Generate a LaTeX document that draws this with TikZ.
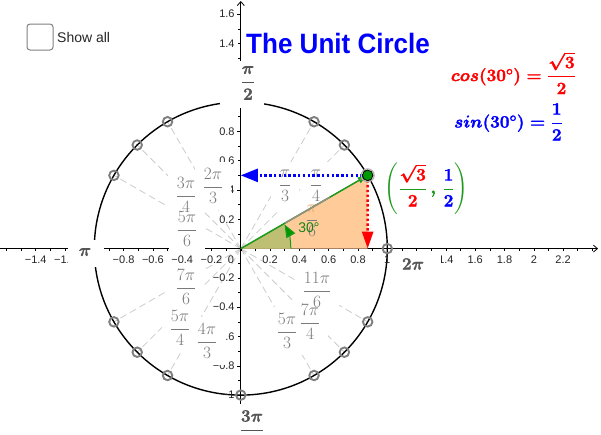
\documentclass[tikz,border=0pt]{standalone}
\usepackage{fontspec}
\usepackage{amsmath}
\setmainfont{Liberation Sans}
\usetikzlibrary{arrows.meta,calc}
\definecolor{ringgray}{HTML}{808080}
\definecolor{labgray}{HTML}{7A7A7A}
\definecolor{boldgray}{HTML}{555555}
\definecolor{dashgray}{HTML}{CCCCCC}
\definecolor{peach}{HTML}{FFCC99}
\definecolor{olive}{HTML}{BFBF73}
\definecolor{vecgreen}{HTML}{1C9A1C}
\definecolor{ptgreen}{HTML}{009900}
\newcommand{\fs}[1]{\fontsize{#1}{#1}\selectfont}
\newcommand{\heavy}[1]{\special{pdf:code 2 Tr 0.3 w}#1\special{pdf:code 0 Tr 1 w}}
\tikzset{
  ticklab/.style={font=\fs{11}, text=black!85, inner sep=0pt},
  graylab/.style={font=\fs{17.5}, text=labgray, inner sep=0pt},
  boldlab/.style={font=\fs{18}\mathversion{bold}, text=boldgray, inner sep=0pt},
  masker/.style={fill=white, draw=none},
  ringmark/.style={circle, draw=ringgray, line width=1.9pt, minimum size=9.5pt, inner sep=0pt},
  spoke/.style={draw=dashgray, line width=0.8pt, dash pattern=on 7pt off 4pt},
  axisline/.style={draw=black, line width=0.8pt, -{Straight Barb[length=4pt,width=7pt]}},
  formula/.style={font=\fs{17.5}\mathversion{bold}, inner sep=0pt},
}
\begin{document}
\begin{tikzpicture}[x=1pt,y=1pt]
\useasboundingbox (0,0) rectangle (601,-434);
\clip (0,0) rectangle (601,-434);
\fill[white] (0,0) rectangle (601,-434);
\coordinate (O) at (240.8,-248.6);
\def\R{146.5}
% points on the circle
\foreach \a/\n in {0/r,30/a,45/b,60/c,120/d,135/e,150/f,210/g,225/h,240/i,270/m,300/j,315/k,330/l}{
  \coordinate (P\n) at ($(O)+(\a:\R pt)$);
}
% spokes
\foreach \n in {a,b,c,d,e,f,g,h,i,j,k,l}{ \draw[spoke] (O) -- (P\n); }
% circle
\draw[black, line width=1.4pt] (O) circle[radius=\R pt];
% axes
\coordinate (XL) at (0,-248.6);
\coordinate (XR) at (598,-248.6);
\coordinate (YB) at (240.8,-434);
\coordinate (YT) at (240.8,-1);
\draw[axisline] (XL) -- (XR);
\draw[axisline] (YB) -- (YT);
% ticks
\foreach \i in {-16,...,24}{ \draw[black,line width=0.6pt] ($(O)+(\i*14.65,0)$) -- ++(0,-2.5); }
\foreach \i in {-12,...,16}{ \draw[black,line width=0.6pt] ($(O)+(0,\i*14.65)$) -- ++(-2.5,0); }
\foreach \i in {-6,-4,...,8}{ \draw[black,line width=0.6pt] ($(O)+(0,\i*29.3)$) -- ++(-4,0); }
% x tick labels
\foreach \v/\t in {-1.4/−1.4,-1.2/−1.2,-0.8/−0.8,-0.6/−0.6,-0.4/−0.4,-0.2/−0.2,0.2/0.2,0.4/0.4,0.6/0.6,0.8/0.8,1/1,1.4/1.4,1.6/1.6,1.8/1.8,2/2,2.2/2.2}{
  \node[ticklab] at ($(O)+(\v*\R,-10.8)$) {\t};
}
\node[ticklab] at (231,-259.6) {0};
% y tick labels
\foreach \v/\t in {1.6/1.6,1.4/1.4,0.8/0.8,0.6/0.6,0.4/0.4,0.2/0.2,-0.2/−0.2,-0.4/−0.4,-0.6/−0.6,-0.8/−0.8,-1/−1}{
  \node[ticklab,anchor=east] at ($(O)+(-6,\v*\R)$) {\t};
}
% white plates of the grey labels
\foreach \x/\y/\w in {187/229/18,186/195/18,213/186/18,285/186/14,316/186/14,186/287/18,180/328/18,207/341/18,287/331/18,317/290/22,310/322/18}{
  \fill[masker] ($(\x-\w,-\y-24)$) rectangle ($(\x+\w,-\y+24)$);
}
% grey fraction labels
\node[graylab] (l56) at (187,-229) {$\dfrac{5\pi}{6}$};
\node[graylab] (l34) at (186,-195) {$\dfrac{3\pi}{4}$};
\node[graylab] (l23) at (213,-186) {$\dfrac{2\pi}{3}$};
\node[graylab] (l13) at (285,-186) {$\dfrac{\pi}{3}$};
\node[graylab] (l14) at (316,-186) {$\dfrac{\pi}{4}$};
\node[graylab] (l76) at (186,-287) {$\dfrac{7\pi}{6}$};
\node[graylab] (l54) at (180,-328) {$\dfrac{5\pi}{4}$};
\node[graylab] (l43) at (207,-341) {$\dfrac{4\pi}{3}$};
\node[graylab] (l53) at (287,-331) {$\dfrac{5\pi}{3}$};
\node[graylab] (l116) at (317,-290) {$\dfrac{11\pi}{6}$};
\node[graylab] (l74) at (310,-322) {$\dfrac{7\pi}{4}$};
% bold axis labels with their white plates
\fill[masker] (220,-61) rectangle (264,-108);
\node[boldlab] (lhalf) at (248,-83) {\heavy{$\dfrac{\pi}{2}$}};
\fill[masker] (68,-240) rectangle (104,-267);
\node[boldlab] (lpi) at (85,-252) {\heavy{$\pi$}};
\fill[masker] (392,-253) rectangle (440.5,-276);
\node[boldlab] (ltwo) at (413,-264) {\heavy{$2\pi$}};
\fill[masker] (220,-404) rectangle (284,-434);
\node[boldlab] (lthree) at (252,-429) {\heavy{$\dfrac{3\pi}{2}$}};
% triangle and sector
\coordinate (T) at ($(O)+(30:\R pt)$);
\coordinate (F) at ($(O)+(\R*0.866,0)$);
\coordinate (S) at ($(O)+(0,\R*0.5)$);
\fill[peach] (O) -- (F) -- (T) -- cycle;
\draw[ringgray,line width=0.6pt] (O) -- (T);
\node[graylab] (l16) at (312,-221) {$\dfrac{\textcolor{peach!55!brown}{\pi}}{6}$};
\coordinate (A0) at ($(O)+(50,0)$);
\fill[olive] (O) -- (A0) arc[start angle=0,end angle=30,radius=50pt] -- cycle;
\draw[vecgreen,line width=1pt,-{Triangle[length=13pt,width=10pt,fill=ptgreen]}] (A0) arc[start angle=0,end angle=29,radius=50pt];
\draw[vecgreen,line width=1.5pt,-{Latex[length=10pt,width=7pt,fill=olive!70!vecgreen]}] (O) -- (T);
\draw[ringgray!80!peach,line width=1.5pt] ($(O)!0.35!(T)$) -- ($(O)!0.70!(T)$);
\node[font=\fs{14}, text=vecgreen!85!black, inner sep=0pt] (ang) at (309,-228) {30°};
% projections
\draw[red,line width=2.4pt,dash pattern=on 2.4pt off 2.4pt,-{Triangle[length=17pt,width=11pt]}] (T) -- (F);
\draw[blue,line width=2.4pt,dash pattern=on 2.4pt off 2.4pt,-{Triangle[length=17pt,width=13pt]}] (T) -- (S);
% rings
\foreach \n in {r,b,c,d,e,f,g,h,i,m,j,k,l}{ \node[ringmark] at (P\n) {}; }
\node[circle,draw=ringgray!60,line width=1.2pt,minimum size=13pt,inner sep=0pt] at (T) {};
\node[circle,fill=ptgreen,draw=black,line width=0.8pt,minimum size=10.5pt,inner sep=0pt] (pt) at (T) {};
% title and check box
\node[font=\fs{28}\bfseries, text=blue, inner sep=0pt, anchor=west] (title) at (246,-43) {\scalebox{0.93}[1]{The Unit Circle}};
\draw[ringgray,line width=1pt,rounded corners=3pt] (27,-24) rectangle (53,-50);
\node[font=\fs{14}, text=black!85, inner sep=0pt, anchor=west] (show) at (57,-37) {Show all};
% formulas
\node[formula, text=red, anchor=east] (cosf) at (576,-73) {\heavy{$cos(30^\circ)=\dfrac{\sqrt{3}}{2}$}};
\node[formula, text=blue, anchor=east] (sinf) at (563,-122) {\heavy{$sin(30^\circ)=\dfrac{1}{2}$}};
\node[formula, text=vecgreen, inner sep=0pt] (coord) at (426.5,-189) {$\left(\heavy{\dfrac{\textcolor{red}{\sqrt{3}}}{\textcolor{red}{2}}\,,\,\dfrac{\textcolor{blue}{1}}{\textcolor{blue}{2}}}\right)$};
\end{tikzpicture}
\end{document}
